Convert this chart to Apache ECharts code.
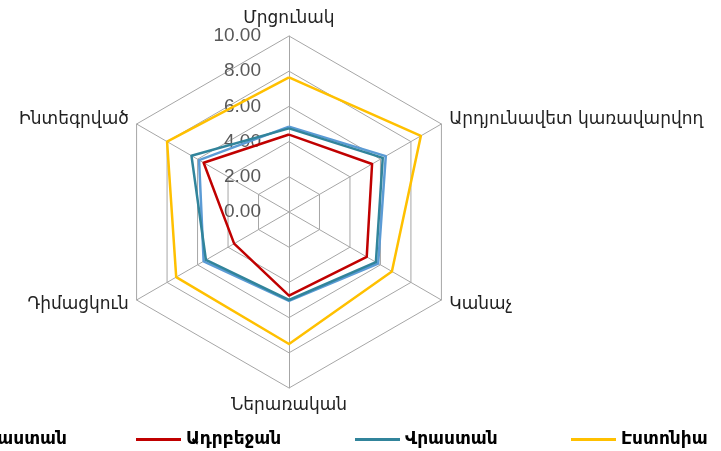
<!DOCTYPE html>
<html>
<head>
<meta charset="utf-8">
<script src="https://cdn.jsdelivr.net/npm/echarts@6/dist/echarts.min.js"></script>
<style>
  html, body { margin: 0; padding: 0; background: #fff; }
  #chart { width: 721px; height: 451px; }
</style>
</head>
<body>
<div id="chart"></div>
<script>
// axes in clockwise order starting at the top
let indicatorNames = ['Մրցունակ', 'Արդյունավետ կառավարվող', 'Կանաչ', 'Ներառական', 'Դիմացկուն', 'Ինտեգրված']
let seriesNames = ['Հայաստան', 'Ադրբեջան', 'Վրաստան', 'Էստոնիա']
let armenia = [4.85, 6.35, 5.85, 5.05, 5.6, 5.9]
let azerbaijan = [4.4, 5.45, 5.1, 4.75, 3.6, 5.6]
let georgia = [4.75, 6.15, 5.7, 5.0, 5.45, 6.4]
let estonia = [7.65, 8.65, 6.75, 7.5, 7.4, 8.0]
let colors = ['#5B9BD5', '#C00000', '#31849B', '#FFC000']
let legendLeft = [-90, 131, 350, 566]

// echarts lays radar axes counterclockwise, so flip the order
function ccw (arr) {
  return [arr[0]].concat(arr.slice(1).reverse())
}

let indicators = ccw(indicatorNames).map(function (name, i) {
  let ind = { name: name, min: 0, max: 10 }
  if (i === 0) {
    ind.axisLabel = {
      show: true,
      showMinLabel: true,
      color: '#595959',
      fontSize: 19,
      fontFamily: 'Liberation Sans',
      margin: 28,
      formatter: function (v) { return Number(v).toFixed(2) }
    }
  }
  return ind
})

let values = [armenia, azerbaijan, georgia, estonia]
let series = [{
  type: 'radar',
  symbol: 'none',
  data: values.map(function (v, i) {
    return {
      name: seriesNames[i],
      value: ccw(v),
      lineStyle: { color: colors[i], width: 2.5 },
      itemStyle: { color: colors[i] }
    }
  })
}]

let legends = seriesNames.map(function (name, i) {
  return {
    data: [name],
    left: legendLeft[i],
    top: 426,
    icon: 'rect',
    itemWidth: 45,
    itemHeight: 3,
    textStyle: { color: '#000', fontSize: 17, fontWeight: 'bold', fontFamily: 'DejaVu Sans' }
  }
})

let myChart = echarts.init(document.getElementById('chart'))
myChart.setOption({
  animation: false,
  color: colors,
  legend: legends,
  radar: {
    center: [289, 212],
    radius: 176,
    startAngle: 90,
    splitNumber: 5,
    shape: 'polygon',
    indicator: indicators,
    nameGap: 9,
    axisName: { color: '#222', fontSize: 17, fontFamily: 'DejaVu Sans' },
    axisLabel: { show: false },
    axisLine: { lineStyle: { color: '#A6A6A6', width: 1 } },
    splitLine: { lineStyle: { color: '#A6A6A6', width: 1 } },
    splitArea: { show: false }
  },
  series: series
})
</script>
</body>
</html>
